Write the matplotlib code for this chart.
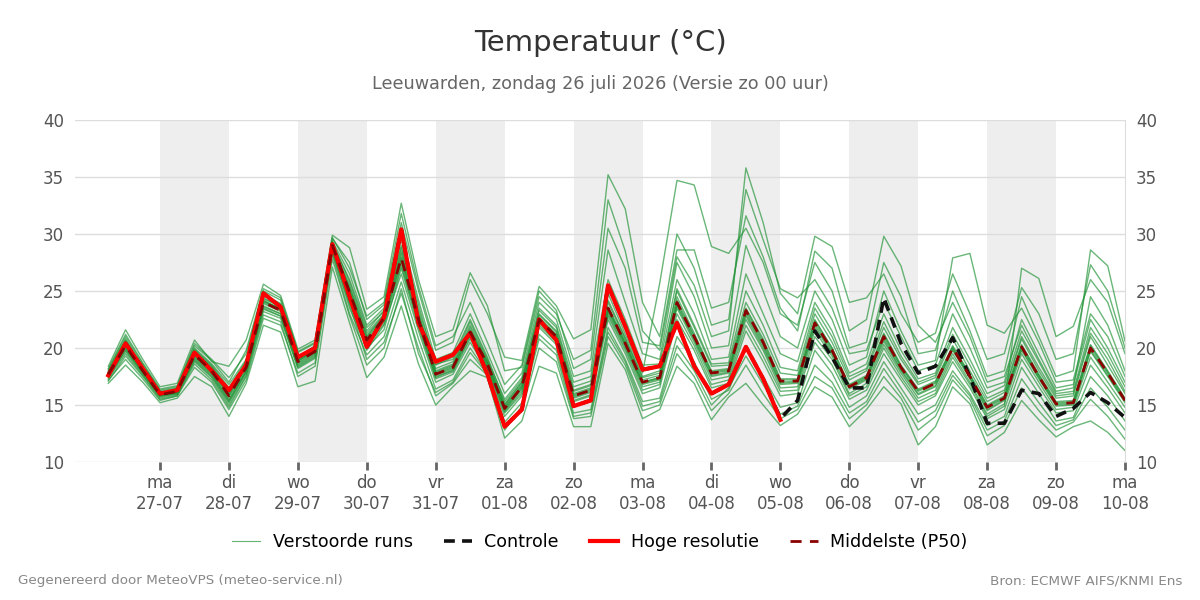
"""Pluimgrafiek temperatuur Leeuwarden (ECMWF ensemble) -> out.png"""
import numpy as np
import matplotlib
matplotlib.use("Agg")
import matplotlib.pyplot as plt
from matplotlib.lines import Line2D

# hours after zo 26-07 00:00, 6-hourly steps
HOURS = np.arange(6, 361, 6)

P50 = [17.7, 20.2, 18.0, 15.9, 16.2, 19.4, 18.0, 15.8, 18.3, 24.0,
       23.3, 18.8, 19.7, 29.0, 24.9, 20.7, 22.6, 27.9, 22.5, 17.7,
       18.3, 21.4, 18.6, 14.7, 16.6, 22.5, 21.0, 15.8, 16.3, 23.5,
       20.4, 17.0, 17.4, 24.0, 21.0, 17.8, 18.0, 23.3, 20.5, 17.1,
       17.1, 22.2, 19.8, 16.6, 17.4, 21.0, 18.3, 16.2, 16.9, 20.0,
       17.5, 14.8, 15.6, 20.1, 17.5, 15.1, 15.2, 20.0, 17.8, 15.4]

# hoge resolutie run stops after 10 days
HRES = [17.6, 20.4, 18.2, 16.0, 16.3, 19.6, 18.0, 16.3, 18.5, 24.8,
        23.6, 19.2, 20.0, 29.1, 24.5, 20.1, 22.7, 30.4, 22.2, 18.8,
        19.4, 21.3, 17.7, 13.1, 14.6, 22.5, 20.7, 14.9, 15.4, 25.5,
        21.9, 18.1, 18.4, 22.2, 18.4, 16.0, 16.8, 20.1, 17.3, 13.7]

CONTROL = [17.6, 20.4, 18.2, 16.0, 16.3, 19.6, 18.0, 16.3, 18.5, 24.8,
           23.6, 19.2, 20.0, 29.1, 24.5, 20.1, 22.7, 30.4, 22.2, 18.8,
           19.4, 21.3, 17.7, 13.1, 14.6, 22.5, 20.7, 14.9, 15.4, 25.5,
           21.9, 18.1, 18.4, 22.2, 18.4, 16.0, 16.8, 20.1, 17.3, 13.8,
           15.4, 21.5, 19.2, 16.5, 16.5, 24.4, 20.4, 17.8, 18.4, 20.9,
           17.5, 13.4, 13.4, 16.3, 16.0, 14.0, 14.7, 16.1, 15.2, 13.9]

# perturbed runs, one row per time step, one column per member
RUNS = [
    [17.8, 17.5, 18.1, 17.3, 17.9, 17.6, 18.4, 17.2, 17.7, 18.0, 16.9, 17.6, 17.8, 17.4, 18.2, 17.7, 17.5, 17.9, 17.1, 17.8],
    [20.6, 19.8, 21.0, 19.5, 20.4, 20.1, 21.6, 19.0, 20.3, 20.8, 18.5, 20.0, 20.5, 19.7, 21.2, 20.2, 19.9, 20.7, 19.3, 20.4],
    [18.2, 17.8, 18.6, 17.6, 18.1, 17.9, 19.0, 17.3, 18.0, 18.4, 17.0, 17.8, 18.2, 17.7, 18.7, 18.0, 17.9, 18.3, 17.5, 18.1],
    [16.0, 15.8, 16.3, 15.6, 16.1, 15.9, 16.6, 15.4, 15.9, 16.2, 15.2, 15.8, 16.0, 15.7, 16.4, 15.9, 15.8, 16.1, 15.5, 16.0],
    [16.4, 16.0, 16.6, 15.9, 16.2, 16.1, 16.9, 15.8, 16.3, 16.5, 15.6, 16.1, 16.3, 16.0, 16.7, 16.2, 16.0, 16.4, 15.8, 16.2],
    [19.8, 19.2, 20.4, 18.8, 19.5, 19.3, 20.7, 18.3, 19.6, 20.0, 17.5, 19.1, 19.7, 19.0, 20.2, 19.4, 18.9, 19.9, 18.6, 19.5],
    [18.4, 17.8, 19.0, 17.4, 18.1, 17.9, 18.8, 17.0, 18.2, 18.6, 16.6, 17.7, 18.3, 17.6, 18.9, 18.0, 17.5, 18.5, 17.2, 18.1],
    [16.3, 15.5, 17.4, 15.0, 16.0, 15.7, 18.4, 14.6, 16.1, 16.8, 14.0, 15.4, 16.2, 15.3, 17.0, 15.8, 15.2, 16.5, 14.8, 15.9],
    [18.6, 18.0, 19.5, 17.6, 18.4, 18.2, 20.7, 17.2, 18.5, 19.0, 16.9, 18.0, 18.7, 17.9, 19.8, 18.3, 17.8, 18.9, 17.5, 18.4],
    [24.4, 23.6, 25.0, 23.2, 24.2, 23.9, 25.6, 22.6, 24.1, 24.7, 22.0, 23.7, 24.3, 23.5, 25.2, 24.0, 23.4, 24.6, 22.9, 24.1],
    [23.6, 23.0, 24.2, 22.6, 23.4, 23.2, 24.6, 22.0, 23.5, 23.9, 21.4, 23.0, 23.7, 22.8, 24.4, 23.3, 22.8, 23.8, 22.3, 23.4],
    [19.0, 18.5, 19.6, 18.2, 18.9, 18.7, 19.9, 17.8, 18.9, 19.3, 16.6, 18.6, 19.1, 18.3, 19.7, 18.8, 18.4, 19.2, 17.5, 18.9],
    [19.9, 19.4, 20.4, 19.1, 19.8, 19.6, 20.7, 18.7, 19.8, 20.1, 17.1, 19.5, 20.0, 19.2, 20.5, 19.7, 19.3, 20.2, 18.4, 19.8],
    [29.2, 28.8, 29.6, 28.5, 29.1, 28.9, 29.9, 28.2, 29.0, 29.4, 27.1, 28.7, 29.2, 28.6, 29.7, 29.0, 28.4, 29.3, 27.8, 29.1],
    [26.0, 24.0, 27.5, 23.5, 25.2, 24.6, 28.8, 23.0, 25.5, 26.5, 22.2, 24.3, 25.0, 24.8, 27.0, 24.9, 23.8, 25.8, 22.8, 25.3],
    [21.8, 19.8, 22.5, 20.0, 21.0, 20.3, 23.4, 19.4, 21.3, 22.0, 17.4, 20.2, 20.9, 20.5, 22.8, 20.7, 19.0, 21.5, 18.5, 21.1],
    [23.2, 22.0, 23.8, 21.6, 22.8, 22.3, 24.5, 21.0, 23.0, 23.5, 19.2, 22.1, 22.7, 22.4, 24.0, 22.6, 20.5, 23.3, 20.0, 22.9],
    [29.5, 26.5, 31.0, 27.0, 28.3, 27.5, 32.7, 25.8, 28.8, 30.0, 23.7, 27.2, 28.0, 27.7, 31.8, 27.9, 24.8, 29.0, 25.2, 28.5],
    [23.8, 21.5, 25.0, 21.8, 22.8, 22.0, 26.0, 20.8, 23.0, 24.2, 18.6, 22.2, 22.6, 22.3, 25.4, 22.5, 20.0, 23.4, 19.5, 23.1],
    [18.5, 17.0, 19.8, 17.3, 17.9, 17.5, 21.0, 16.4, 18.2, 19.0, 15.0, 17.4, 17.8, 17.6, 20.2, 17.7, 15.8, 18.6, 16.1, 18.0],
    [19.2, 17.7, 20.5, 17.9, 18.5, 18.0, 21.6, 17.2, 18.8, 19.6, 16.6, 18.1, 18.4, 18.2, 21.0, 18.3, 16.9, 19.0, 17.0, 18.6],
    [22.5, 20.5, 26.0, 20.8, 21.6, 21.0, 26.6, 20.0, 22.0, 23.0, 18.0, 21.2, 21.5, 21.3, 24.0, 21.4, 19.0, 22.3, 19.6, 21.8],
    [19.2, 18.0, 23.0, 18.2, 18.8, 18.3, 23.7, 17.8, 18.9, 19.6, 17.4, 18.4, 18.6, 18.5, 20.5, 18.6, 17.6, 19.0, 17.7, 18.7],
    [15.3, 14.0, 19.2, 14.3, 14.9, 14.4, 18.0, 13.5, 15.0, 16.0, 12.1, 14.5, 14.8, 14.6, 16.8, 14.7, 13.0, 15.5, 12.8, 15.1],
    [17.2, 15.8, 18.9, 16.0, 16.8, 16.2, 18.3, 15.2, 17.0, 17.8, 13.6, 16.4, 16.7, 16.5, 18.5, 16.6, 14.5, 17.4, 14.9, 17.0],
    [23.3, 21.8, 25.4, 22.0, 22.7, 22.2, 24.5, 21.2, 23.0, 24.0, 18.4, 22.3, 22.6, 22.4, 25.0, 22.5, 20.0, 23.5, 20.8, 22.9],
    [21.8, 20.3, 23.7, 20.5, 21.2, 20.6, 23.0, 19.8, 21.5, 22.5, 17.8, 20.8, 21.1, 20.9, 23.3, 21.0, 18.8, 22.0, 19.4, 21.4],
    [16.6, 15.0, 20.8, 15.3, 16.0, 15.4, 19.0, 14.3, 16.3, 17.5, 13.1, 15.6, 15.9, 15.7, 18.2, 15.8, 13.8, 17.0, 14.0, 16.2],
    [17.1, 15.5, 21.6, 15.8, 16.5, 15.9, 19.8, 14.6, 16.8, 18.0, 13.1, 16.1, 16.4, 16.2, 19.0, 16.3, 14.0, 17.5, 14.3, 16.7],
    [24.8, 22.5, 35.2, 22.8, 23.6, 23.0, 33.0, 21.8, 24.2, 28.6, 20.4, 23.2, 23.5, 23.3, 30.5, 23.5, 21.0, 26.0, 21.4, 24.0],
    [21.2, 19.5, 32.2, 19.8, 20.6, 20.0, 28.5, 19.0, 20.9, 24.0, 18.1, 20.2, 20.4, 20.3, 27.0, 20.4, 18.5, 22.5, 18.8, 20.8],
    [17.8, 16.0, 24.0, 16.3, 17.2, 16.6, 21.5, 15.3, 17.5, 19.5, 13.8, 16.8, 17.0, 16.9, 20.5, 17.0, 14.5, 18.5, 14.9, 17.4],
    [25.7, 16.5, 21.0, 16.8, 17.6, 17.0, 19.8, 15.6, 18.0, 19.0, 14.6, 17.2, 17.4, 17.3, 20.2, 17.4, 15.0, 18.6, 15.3, 17.8],
    [34.7, 22.5, 30.0, 23.0, 24.5, 23.5, 28.0, 21.0, 25.0, 27.5, 18.4, 23.8, 24.0, 23.7, 28.6, 24.2, 19.5, 26.0, 20.2, 25.2],
    [34.3, 19.8, 27.0, 20.2, 21.3, 20.5, 25.5, 18.8, 21.8, 24.5, 16.9, 20.8, 21.0, 20.7, 28.6, 21.1, 17.5, 23.0, 18.0, 22.0],
    [28.9, 16.5, 22.0, 16.8, 18.0, 17.2, 21.0, 15.5, 18.4, 20.0, 13.7, 17.5, 17.8, 17.6, 23.5, 17.9, 14.5, 19.0, 15.0, 18.6],
    [28.3, 16.9, 22.5, 17.2, 18.2, 17.5, 21.5, 16.3, 18.5, 20.2, 15.7, 17.8, 18.0, 17.9, 24.0, 18.1, 16.0, 19.2, 16.5, 18.7],
    [30.5, 21.5, 33.9, 22.0, 23.5, 22.5, 35.8, 20.0, 24.0, 29.0, 16.9, 22.8, 23.2, 23.0, 31.6, 23.4, 18.5, 26.5, 19.3, 25.0],
    [27.5, 18.8, 29.5, 19.3, 20.8, 19.8, 31.0, 17.5, 21.2, 25.0, 15.0, 20.0, 20.4, 20.2, 28.0, 20.6, 16.0, 23.0, 16.8, 22.0],
    [23.0, 15.8, 25.2, 16.2, 17.3, 16.5, 24.8, 14.8, 17.8, 21.0, 13.2, 16.8, 17.0, 16.9, 23.5, 17.2, 13.8, 19.5, 14.2, 18.3],
    [22.0, 16.0, 24.4, 16.3, 17.3, 16.6, 23.0, 15.2, 17.6, 20.0, 14.2, 16.9, 17.1, 17.0, 21.5, 17.2, 14.6, 18.8, 14.9, 18.0],
    [27.5, 20.5, 26.0, 21.0, 22.5, 21.5, 29.8, 19.8, 23.0, 25.0, 16.6, 21.8, 22.2, 22.0, 28.5, 22.4, 17.5, 24.0, 18.5, 23.5],
    [25.0, 18.5, 23.5, 19.0, 20.0, 19.3, 28.9, 17.8, 20.5, 22.5, 15.7, 19.5, 19.8, 19.6, 27.0, 20.0, 16.5, 21.5, 17.0, 21.0],
    [20.0, 15.5, 19.5, 15.8, 16.8, 16.0, 24.0, 14.8, 17.2, 18.5, 13.1, 16.4, 16.6, 16.5, 21.5, 16.7, 13.8, 17.8, 14.3, 17.5],
    [20.5, 16.3, 19.8, 16.6, 17.6, 16.9, 24.4, 15.8, 18.0, 19.2, 14.6, 17.2, 17.4, 17.3, 22.5, 17.5, 15.0, 18.6, 15.3, 18.2],
    [27.5, 19.5, 24.0, 20.0, 21.3, 20.3, 26.5, 18.8, 21.8, 25.0, 16.6, 20.6, 21.0, 20.8, 29.8, 21.2, 17.5, 23.0, 18.2, 22.3],
    [24.5, 17.2, 21.0, 17.5, 18.5, 17.8, 23.0, 16.5, 19.0, 21.5, 15.1, 18.0, 18.3, 18.1, 27.2, 18.4, 15.6, 19.8, 16.0, 19.3],
    [19.5, 15.0, 18.0, 15.3, 16.4, 15.6, 20.5, 14.2, 16.8, 18.5, 11.5, 15.9, 16.2, 16.0, 22.0, 16.3, 12.8, 17.3, 13.5, 17.0],
    [19.8, 15.8, 18.5, 16.0, 17.1, 16.3, 21.3, 15.0, 17.4, 18.9, 13.1, 16.6, 16.9, 16.7, 20.5, 17.0, 14.0, 17.8, 14.5, 17.6],
    [25.0, 18.8, 23.0, 19.2, 20.2, 19.5, 26.5, 18.0, 20.8, 27.9, 16.6, 19.8, 20.0, 19.9, 24.0, 20.1, 17.2, 21.8, 17.6, 21.2],
    [21.5, 16.5, 20.0, 16.8, 17.7, 17.0, 23.0, 16.0, 18.0, 28.3, 15.1, 17.3, 17.5, 17.4, 21.0, 17.6, 15.5, 19.0, 15.8, 18.5],
    [17.5, 13.8, 16.5, 14.0, 15.0, 14.2, 19.0, 13.2, 15.3, 22.0, 11.5, 14.5, 14.8, 14.6, 17.0, 14.9, 12.3, 16.0, 12.8, 15.6],
    [18.0, 14.6, 17.0, 14.9, 15.8, 15.1, 19.5, 14.0, 16.1, 21.3, 12.6, 15.4, 15.6, 15.5, 17.5, 15.7, 13.2, 16.7, 13.6, 16.3],
    [24.5, 19.0, 22.5, 27.0, 20.3, 19.5, 25.3, 18.3, 20.8, 23.5, 15.4, 19.8, 20.1, 19.9, 22.0, 20.2, 16.5, 21.5, 17.3, 21.0],
    [21.0, 16.6, 19.5, 26.1, 17.7, 17.0, 23.0, 16.0, 18.0, 20.5, 13.7, 17.3, 17.5, 17.4, 19.0, 17.6, 14.5, 18.8, 15.2, 18.3],
    [17.5, 14.3, 16.5, 21.0, 15.3, 14.6, 19.0, 13.6, 15.6, 17.0, 12.2, 14.9, 15.1, 15.0, 16.2, 15.2, 12.8, 16.0, 13.2, 15.8],
    [18.0, 14.5, 16.8, 21.9, 15.4, 14.8, 19.5, 13.9, 15.8, 17.2, 13.1, 15.0, 15.2, 15.1, 16.5, 15.3, 13.5, 16.2, 13.7, 16.0],
    [28.6, 18.5, 22.5, 26.0, 20.3, 19.2, 27.3, 17.5, 21.0, 23.0, 13.6, 19.7, 20.0, 19.8, 24.5, 20.2, 15.5, 21.8, 16.5, 21.3],
    [27.2, 16.5, 20.0, 24.0, 18.0, 17.0, 25.0, 15.8, 18.5, 21.0, 12.6, 17.5, 17.8, 17.6, 22.0, 17.9, 14.0, 19.5, 14.8, 19.0],
    [20.6, 14.3, 17.0, 19.5, 15.6, 14.8, 20.0, 13.6, 16.0, 17.5, 11.0, 15.2, 15.4, 15.3, 18.0, 15.5, 12.0, 16.6, 12.8, 16.2],
]

DAY_NAMES = ["ma", "di", "wo", "do", "vr", "za", "zo",
             "ma", "di", "wo", "do", "vr", "za", "zo", "ma"]
DAY_DATES = ["27-07", "28-07", "29-07", "30-07", "31-07", "01-08", "02-08",
             "03-08", "04-08", "05-08", "06-08", "07-08", "08-08", "09-08", "10-08"]

runs = np.array(RUNS)
day_ticks = 24 * np.arange(1, len(DAY_DATES) + 1)

fig = plt.figure(figsize=(12, 6), dpi=100)
ax = fig.add_axes([0.0625, 0.23, 0.875, 0.57])

# alternating day shading
for i in range(0, len(day_ticks) - 1, 2):
    ax.axvspan(day_ticks[i], day_ticks[i + 1], color="#eeeeee", lw=0, zorder=0)

for y in range(10, 41, 5):
    ax.axhline(y, color="#dddddd", lw=1, zorder=1)

ax.plot(HOURS, runs, color="#239438", lw=1.0, alpha=0.68, zorder=2)
ax.plot(HOURS, CONTROL, color="#111111", lw=2.6, ls=(0, (3, 2)), zorder=3)
ax.plot(HOURS[:len(HRES)], HRES, color="#ff0000", lw=3, zorder=4)
ax.plot(HOURS, P50, color="#8b0000", lw=2, ls=(0, (4, 3)), zorder=5)

ax.set_xlim(-5.6, 360)
ax.set_ylim(10, 40)
ax.set_yticks(range(10, 41, 5))
ax.set_xticks(day_ticks)
ax.set_xticklabels([f"{n}\n{d}" for n, d in zip(DAY_NAMES, DAY_DATES)])
ax.tick_params(axis="x", length=6, width=2, color="#666666", labelsize=12,
               labelcolor="#555555", pad=3)
ax.tick_params(axis="y", length=0, labelsize=12, labelcolor="#555555", pad=8,
               labelright=True)
for side in ["top", "left", "bottom"]:
    ax.spines[side].set_visible(False)
ax.spines["right"].set_color("#dddddd")

fig.text(0.5, 0.929, "Temperatuur (°C)", ha="center", va="center",
         fontsize=21, color="#333333")
fig.text(0.5, 0.86, "Leeuwarden, zondag 26 juli 2026 (Versie zo 00 uur)",
         ha="center", va="center", fontsize=12.7, color="#666666")

handles = [
    Line2D([], [], color="#239438", lw=0.8, alpha=0.7),
    Line2D([], [], color="#111111", lw=2.6, ls=(0, (3, 2))),
    Line2D([], [], color="#ff0000", lw=3),
    Line2D([], [], color="#8b0000", lw=2, ls=(0, (4, 3))),
]
labels = ["Verstoorde runs", "Controle", "Hoge resolutie", "Middelste (P50)"]
fig.legend(handles, labels, loc="center", bbox_to_anchor=(0.5, 0.097), ncol=4,
           frameon=False, fontsize=12.6, handlelength=1.6, handletextpad=0.7,
           columnspacing=1.8)

fig.text(0.015, 0.032, "Gegenereerd door MeteoVPS (meteo-service.nl)",
         ha="left", va="center", fontsize=9.7, color="#888888")
fig.text(0.985, 0.032, "Bron: ECMWF AIFS/KNMI Ens",
         ha="right", va="center", fontsize=9.7, color="#888888")

fig.savefig("out.png", dpi=100)
